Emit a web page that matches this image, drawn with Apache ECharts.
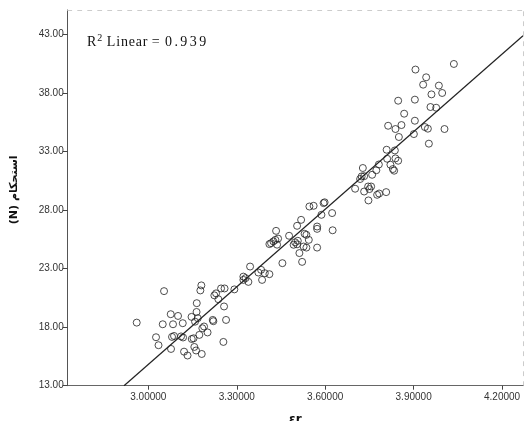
<!DOCTYPE html>
<html>
<head>
<meta charset="utf-8">
<script src="https://cdn.jsdelivr.net/npm/echarts@6/dist/echarts.min.js"></script>
<style>html,body{margin:0;padding:0;background:#fff;width:100%;height:100%;overflow:hidden}#c{width:524px;height:421px}</style>
</head>
<body>
<div id="c"></div>
<script>
const xValues = [2.9606,3.0533,3.0760,3.1008,3.0489,3.0838,3.1168,3.0261,3.0346,3.0770,
3.0804,3.0872,3.1110,3.1178,3.1212,3.1330,3.1466,3.1643,3.1799,3.1765,
3.1636,3.1677,3.1585,3.1473,3.1534,3.1561,3.1619,3.1812,3.1731,3.1833,
3.1890,3.2009,3.2186,3.2206,3.2240,3.2298,3.2376,3.2467,3.2586,3.2569,
3.2637,3.2546,3.2919,3.3224,3.3299,3.3224,3.3452,3.3394,3.3733,3.3825,
3.3951,3.4107,3.3859,3.4548,3.4334,3.4164,3.4243,3.4402,3.4368,3.4107,
3.4310,3.4775,3.4979,3.4928,3.5047,3.5071,3.5183,3.5047,3.5125,3.5217,
3.5268,3.5301,3.5363,3.5444,3.5363,3.5726,3.5726,3.5726,3.5872,3.6235,
3.6252,3.5464,3.5607,3.5946,3.5980,3.7015,3.7277,3.7185,3.7236,3.7321,
3.7321,3.7457,3.7558,3.7501,3.7467,3.7592,3.7735,3.7820,3.7762,3.7830,
3.8068,3.8084,3.8101,3.8213,3.8295,3.8339,3.8363,3.8383,3.8475,3.8499,
3.8135,3.8383,3.8587,3.8475,3.8679,3.9042,3.9042,3.9008,3.9062,3.9425,
3.9323,3.9856,3.9968,3.9605,3.9571,3.9765,3.9381,3.9483,4.0047,3.9517,
4.0365];
const yValues = [18.39,21.08,19.11,18.96,18.25,18.25,18.34,17.14,16.46,16.14,
17.17,17.25,17.21,17.12,15.91,15.58,18.88,20.05,21.57,21.14,
19.30,18.77,18.47,16.99,17.05,16.31,16.01,15.71,17.34,17.91,
18.06,17.55,18.62,18.51,20.72,20.89,20.39,21.31,21.31,19.77,
18.62,16.74,21.23,22.32,22.19,22.04,23.18,21.87,22.67,22.90,
22.61,22.53,22.04,23.47,26.23,25.18,25.33,25.57,25.05,25.10,
25.46,25.81,25.25,25.04,25.08,25.38,27.17,26.66,24.33,23.58,
24.89,25.98,25.89,25.46,24.80,26.60,26.40,24.80,27.60,27.75,
26.28,28.31,28.37,28.60,28.67,29.83,31.60,30.66,30.88,30.90,
29.59,30.02,30.02,29.80,28.83,31.02,31.41,31.90,29.31,29.42,
29.54,33.16,32.39,31.88,31.51,31.37,33.10,32.42,32.22,34.25,
35.21,34.93,35.27,37.35,36.24,37.44,35.64,34.50,40.01,39.35,
38.72,38.64,38.01,37.89,36.81,36.75,35.10,34.96,34.93,33.68,
40.49];
const xTicks = [3.0, 3.3, 3.6, 3.9, 4.2];
const yTicks = [13, 18, 23, 28, 33, 38, 43];
const xRange = [2.7265, 4.271];
const yRange = [13, 45.1];
const fitIntercept = -51.45;
const fitSlope = 22.09;
const fitXs = [2.9175, 4.271];
const r2Text = '0.939';
const xName = 'εr';
const yName = '\u202Bاستحکام (N)\u202C';

const points = xValues.map((x, i) => [x, yValues[i]]);
const fitLine = fitXs.map(x => [x, fitIntercept + fitSlope * x]);
const spaced = (s, style) => s.split('').map(ch => '{' + style + '|' + ch + '}').join('');

const chart = echarts.init(document.getElementById('c'), null, {renderer: 'canvas'});
const labelStyle = {color: '#333', fontSize: 10, fontFamily: 'Liberation Sans, Arial, sans-serif'};
const serif = 'Liberation Serif, Times New Roman, serif';
chart.setOption({
  backgroundColor: '#fff',
  animation: false,
  grid: {left: 67.7, right: 1, top: 10, bottom: 35.3, containLabel: false, outerBoundsMode: 'none'},
  xAxis: [{
    type: 'value', min: xRange[0], max: xRange[1], position: 'bottom',
    name: xName, nameLocation: 'middle', nameGap: 28,
    nameTextStyle: {fontSize: 12, fontWeight: 'bold', color: '#111', fontFamily: 'DejaVu Sans'},
    axisLine: {show: true, lineStyle: {color: '#666', width: 1}},
    axisTick: {show: true, length: 4, inside: false, customValues: xTicks, lineStyle: {color: '#444'}},
    axisLabel: Object.assign({margin: 7, customValues: xTicks, formatter: v => v.toFixed(5)}, labelStyle),
    splitLine: {show: false}
  }, {
    type: 'value', min: xRange[0], max: xRange[1], position: 'top',
    axisLine: {show: true, lineStyle: {color: '#ccc', type: [4, 6], width: 1}},
    axisTick: {show: false}, axisLabel: {show: false}, splitLine: {show: false}
  }],
  yAxis: [{
    type: 'value', min: yRange[0], max: yRange[1], position: 'left',
    name: yName, nameLocation: 'middle', nameGap: 48, nameRotate: 90,
    nameTextStyle: {fontSize: 11, fontWeight: 'bold', color: '#111', fontFamily: 'DejaVu Sans', padding: [0, 0, 0, 16]},
    axisLine: {show: true, lineStyle: {color: '#555', width: 1}},
    axisTick: {show: true, length: 5, inside: false, customValues: yTicks, lineStyle: {color: '#444'}},
    axisLabel: Object.assign({margin: 4, customValues: yTicks, formatter: v => v.toFixed(2)}, labelStyle),
    splitLine: {show: false}
  }, {
    type: 'value', min: yRange[0], max: yRange[1], position: 'right',
    axisLine: {show: true, lineStyle: {color: '#ccc', type: [4, 6], width: 1}},
    axisTick: {show: false}, axisLabel: {show: false}, splitLine: {show: false}
  }],
  series: [{
    type: 'scatter', data: points, symbol: 'circle', symbolSize: 7,
    itemStyle: {color: 'rgba(0,0,0,0)', borderColor: '#222', borderWidth: 1},
    silent: true
  }, {
    type: 'line', data: fitLine, showSymbol: false, symbol: 'none', clip: true,
    lineStyle: {color: '#222', width: 1.2}, silent: true
  }],
  graphic: [{
    type: 'text', left: 87, top: 33,
    style: {
      text: '{b|R}{sup|2}{sp| }' + spaced('Linear', 'l') + '{eq|=}' + spaced(r2Text, 'd'),
      rich: {
        b: {fontSize: 14, fontFamily: serif, fill: '#111'},
        sp: {fontSize: 14, fontFamily: serif, fill: '#111', padding: [0, 1, 0, 0]},
        sup: {fontSize: 10, fontFamily: serif, verticalAlign: 'top', padding: [0, 0, 8, 1], fill: '#111'},
        l: {fontSize: 14, fontFamily: serif, fill: '#111', padding: [0, 0.8, 0, 0]},
        eq: {fontSize: 14, fontFamily: serif, padding: [0, 5.4, 0, 3.6], fill: '#111'},
        d: {fontSize: 14, fontFamily: serif, fill: '#111', padding: [0, 2.4, 0, 0]}
      },
      fontSize: 14, fontFamily: serif, fill: '#111'
    }
  }]
});
</script>
</body>
</html>
